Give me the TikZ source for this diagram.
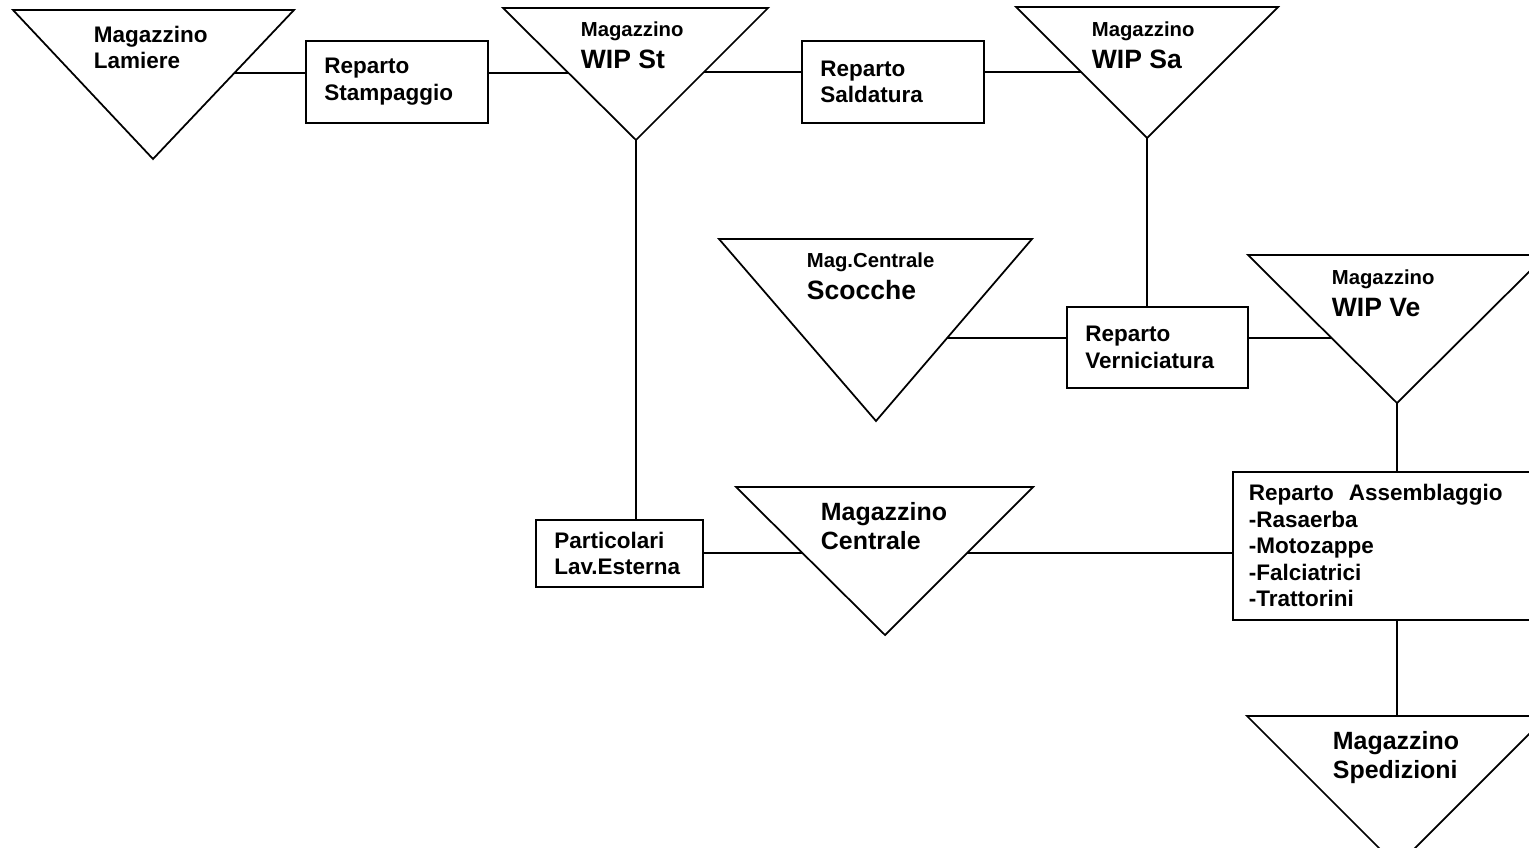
\documentclass[tikz,border=0pt]{standalone}
\usepackage{fontspec}
\setmainfont{Liberation Sans}
\usepackage{tikz}

\newcommand\grande{\fontsize{15.1}{18.5}\selectfont}

\begin{document}
\begin{tikzpicture}[
        x=0.02cm, y=-0.02cm,
        line width=1pt,
        every node/.style={font=\bfseries\fontsize{12.8}{15.1}\selectfont, align=left, inner sep=0pt},
        reparto/.style={draw, anchor=north west, inner xsep=0.37cm},
        scritta/.style={anchor=north west},
        piccolo/.style={font=\bfseries\fontsize{11.55}{18.5}\selectfont},
        medio/.style={font=\bfseries\fontsize{14.2}{16.5}\selectfont}
    ]
        \useasboundingbox (0,0) rectangle (1529,848);
        \clip (0,0) rectangle (1529,848);

        \draw (153,159) coordinate (lamA) -- (13,10) -- (294,10) -- coordinate[pos=0.423] (lamE) (153,159) -- cycle;
        \draw (636,140) coordinate (wipstA) -- coordinate[pos=0.508] (wipstW) (503,8) -- (768,8) -- coordinate[pos=0.485] (wipstE) (636,140) -- cycle;
        \draw (1147,138) coordinate (wipsaA) -- coordinate[pos=0.504] (wipsaW) (1016,7) -- (1278,7) -- (1147,138) -- cycle;
        \draw (876,421) coordinate (scocA) -- (719,239) -- (1032,239) -- coordinate[pos=0.544] (scocE) (876,421) -- cycle;
        \draw (1397,403) coordinate (wipveA) -- coordinate[pos=0.439] (wipveW) (1248,255) -- (1546,255) -- (1397,403) -- cycle;
        \draw (885,635) coordinate (centA) -- coordinate[pos=0.554] (centW) (736,487) -- (1033,487) -- coordinate[pos=0.446] (centE) (885,635) -- cycle;
        \draw (1397,866) coordinate (spedA) -- (1247,716) -- coordinate (spedT) (1547,716) -- (1397,866) -- cycle;

        \node[scritta] (lamT) at (93,25) {Magazzino\\Lamiere};
        \node[scritta, piccolo] (wipstT) at (580,20.5) {Magazzino\\{\grande WIP St}};
        \node[scritta, piccolo] (wipsaT) at (1091,20.5) {Magazzino\\{\grande WIP Sa}};
        \node[scritta, piccolo] (scocT) at (806,251.5) {Mag.Centrale\\{\grande Scocche}};
        \node[scritta, piccolo] (wipveT) at (1331,268.5) {Magazzino\\{\grande WIP Ve}};
        \node[scritta, medio] (centT) at (820,502) {Magazzino\\Centrale};
        \node[scritta, medio] (spedT2) at (1332,731) {Magazzino\\Spedizioni};

        \node[reparto, text width=2.90cm, minimum height=1.64cm] (stamp) at (305,40) {Reparto\\Stampaggio};
        \node[reparto, text width=2.90cm, minimum height=1.64cm] (sald) at (801,40) {Reparto\\Saldatura};
        \node[reparto, text width=2.88cm, minimum height=1.62cm] (vern) at (1066,306) {Reparto\\Verniciatura};
        \node[reparto, text width=2.60cm, minimum height=1.34cm] (part) at (535,519) {Particolari\\Lav.Esterna};
        \node[reparto, inner xsep=0.32cm, text width=6cm, minimum height=2.96cm] (assem) at (1232,471) {Reparto~~Assemblaggio\\-Rasaerba\\-Motozappe\\-Falciatrici\\-Trattorini};

        \draw (lamE) -- (lamE -| stamp.west);
        \draw (stamp.east |- wipstW) -- (wipstW);
        \draw (wipstE) -- (wipstE -| sald.west);
        \draw (sald.east |- wipsaW) -- (wipsaW);
        \draw (wipstA) -- (wipstA |- part.north);
        \draw (wipsaA) -- (wipsaA |- vern.north);
        \draw (scocE) -- (scocE -| vern.west);
        \draw (vern.east |- wipveW) -- (wipveW);
        \draw (wipveA) -- (wipveA |- assem.north);
        \draw (part.east |- centW) -- (centW);
        \draw (centE) -- (centE -| assem.west);
        \draw (assem.south -| spedT) -- (spedT);
    \end{tikzpicture}
\end{document}
